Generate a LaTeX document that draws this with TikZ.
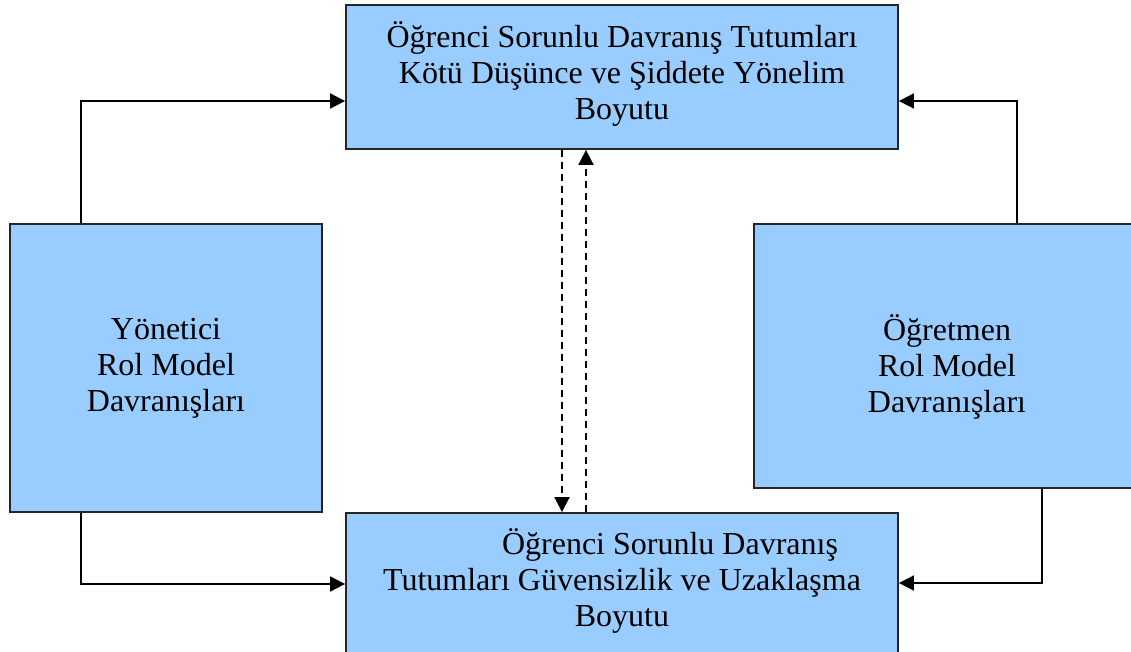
\documentclass[tikz,border=0pt]{standalone}
\usepackage{fontspec}
\setmainfont{Liberation Serif}
\usetikzlibrary{arrows.meta}
\definecolor{boxblue}{HTML}{99CCFF}
\begin{document}
\begin{tikzpicture}[x=1pt,y=-1pt,
  box/.style={draw=black!85, line width=1.8pt, fill=boxblue, rectangle, inner sep=0pt},
  boxtext/.style={align=center, inner sep=0pt, font=\fontsize{32}{36}\selectfont},
  conn/.style={line width=1.8pt, -{Triangle[length=15pt,width=15pt]}},
  dconn/.style={line width=1.8pt, dash pattern=on 7pt off 5pt, -{Triangle[length=15pt,width=15pt]}}]
\useasboundingbox (0,0) rectangle (1131,652);
\clip (0,0) rectangle (1131,652);
\node[box, minimum width=552pt, minimum height=144pt,
  label={[boxtext, yshift=3pt]center:{Öğrenci Sorunlu Davranış Tutumları\\Kötü Düşünce ve Şiddete Yönelim\\Boyutu}}]
  (top) at (622,77) {};
\node[box, minimum width=312pt, minimum height=288pt,
  label={[boxtext]center:{Yönetici\\Rol Model\\Davranışları}}]
  (left) at (166,368) {};
\node[box, minimum width=386pt, minimum height=264pt,
  label={[boxtext, yshift=-11pt]center:{Öğretmen\\Rol Model\\Davranışları}}]
  (right) at (947,356) {};
\node[box, minimum width=552pt, minimum height=144pt,
  label={[boxtext, yshift=4pt]center:{\hspace*{96pt}Öğrenci Sorunlu Davranış\\Tutumları Güvensizlik ve Uzaklaşma\\Boyutu}}]
  (bottom) at (622,585) {};
\draw[conn] ([xshift=72pt]left.north west) |- ([yshift=-24pt]top.west);
\draw[conn] ([xshift=264pt]right.north west) |- ([yshift=-24pt]top.east);
\draw[conn] ([xshift=72pt]left.south west) |- ([yshift=1pt]bottom.west);
\draw[conn] ([xshift=289pt]right.south west) |- ([yshift=2pt]bottom.east);
\draw[dconn] ([xshift=-60pt]top.south) -- ([xshift=-60pt]bottom.north);
\draw[dconn] ([xshift=-36pt]bottom.north) -- ([xshift=-36pt]top.south);
\end{tikzpicture}
\end{document}
